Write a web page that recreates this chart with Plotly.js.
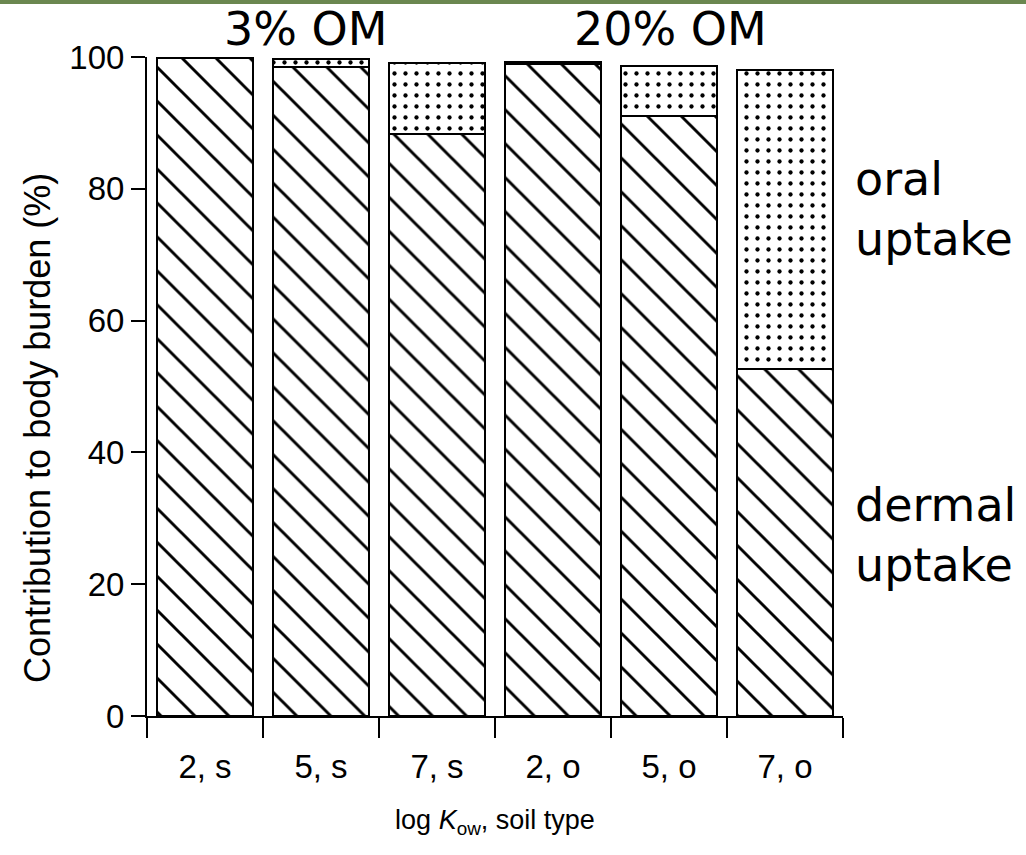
<!DOCTYPE html>
<html><head><meta charset="utf-8">
<script src="https://cdn.plot.ly/plotly-3.0.1.min.js"></script>
<style>html,body{margin:0;padding:0;background:#fff}#chart{width:1026px;height:855px}</style>
</head><body><div id="chart"></div>
<script>
// ---- data ----
const categories = ['2, s', '5, s', '7, s', '2, o', '5, o', '7, o'];
const dermalUptake = [99.8, 98.5, 88.3, 99.0, 91.1, 52.6];
const oralUptake = [0, 1.2, 10.8, 0.3, 7.5, 45.5];
const yTickValues = [0, 20, 40, 60, 80, 100];
const groupLabels = ['3% OM', '20% OM'];
const seriesLabels = ['oral<br>uptake', 'dermal<br>uptake'];
const yTitle = 'Contribution to body burden (%)';
const xTitle = 'log <i>K</i><sub>ow</sub>, soil type';

// ---- layout constants ----
const W = 1026, H = 855;
const M = {l: 147, r: 183, t: 57, b: 139};
const PW = W - M.l - M.r, PH = H - M.t - M.b;
const helv = '"Liberation Sans", Arial, Helvetica, sans-serif';
const verd = '"DejaVu Sans", Verdana, sans-serif';

const traces = [
  {
    type: 'bar', name: 'dermal uptake', x: categories, y: dermalUptake,
    marker: {color: 'white', line: {color: 'black', width: 2},
      pattern: {shape: '\\', fgcolor: 'black', bgcolor: 'white', size: 24, solidity: 0.12}},
    hoverinfo: 'y'
  },
  {
    type: 'bar', name: 'oral uptake', x: categories, y: oralUptake,
    marker: {color: 'white', line: {color: 'black', width: 2},
      pattern: {shape: '.', fgcolor: 'black', bgcolor: 'white', size: 11, solidity: 0.12}},
    hoverinfo: 'y'
  }
];

const layout = {
  width: W, height: H,
  margin: M,
  paper_bgcolor: 'white', plot_bgcolor: 'white',
  barmode: 'stack', bargap: 0.18,
  showlegend: false,
  font: {family: helv, color: 'black'},
  xaxis: {
    type: 'category',
    showline: true, linecolor: 'black', linewidth: 2,
    ticks: 'outside', tickson: 'boundaries', ticklen: 20, tickwidth: 2, tickcolor: 'black',
    tickfont: {family: helv, size: 33, color: 'black'},
    ticklabelstandoff: 20,
    showgrid: false, zeroline: false,
    title: {text: xTitle, font: {family: helv, size: 27, color: 'black'}, standoff: 27}
  },
  yaxis: {
    range: [0, 100], tickvals: yTickValues,
    showline: true, linecolor: 'black', linewidth: 2,
    ticks: 'outside', ticklen: 14, tickwidth: 2, tickcolor: 'black',
    tickfont: {family: helv, size: 33, color: 'black'},
    showgrid: false, zeroline: false
  },
  shapes: [
    {type: 'rect', xref: 'paper', yref: 'paper',
     x0: -M.l / PW, x1: (W - M.l) / PW, y0: 1 + (M.t - 4) / PH, y1: 1 + M.t / PH,
     fillcolor: '#6b8750', line: {width: 0}}
  ],
  annotations: [
    {text: yTitle, textangle: -90, xref: 'paper', yref: 'paper', x: (37 - M.l) / PW, y: (716 - 428) / PH,
     xanchor: 'center', yanchor: 'middle', showarrow: false, font: {family: helv, size: 36, color: 'black'}},
    {text: groupLabels[0], xref: 'paper', yref: 'paper', x: (306 - M.l) / PW, y: 1 + (M.t - 29) / PH,
     xanchor: 'center', yanchor: 'middle', showarrow: false, font: {family: verd, size: 46, color: 'black'}},
    {text: groupLabels[1], xref: 'paper', yref: 'paper', x: (670 - M.l) / PW, y: 1 + (M.t - 29) / PH,
     xanchor: 'center', yanchor: 'middle', showarrow: false, font: {family: verd, size: 46, color: 'black'}},
    {text: seriesLabels[0], xref: 'paper', yref: 'y', x: (853 - M.l) / PW, y: 77,
     xanchor: 'left', yanchor: 'middle', align: 'left', showarrow: false, font: {family: verd, size: 46, color: 'black'}},
    {text: seriesLabels[1], xref: 'paper', yref: 'y', x: (853 - M.l) / PW, y: 27.5,
     xanchor: 'left', yanchor: 'middle', align: 'left', showarrow: false, font: {family: verd, size: 46, color: 'black'}}
  ]
};

Plotly.newPlot('chart', traces, layout, {displayModeBar: false, responsive: false});
</script>
</body></html>
